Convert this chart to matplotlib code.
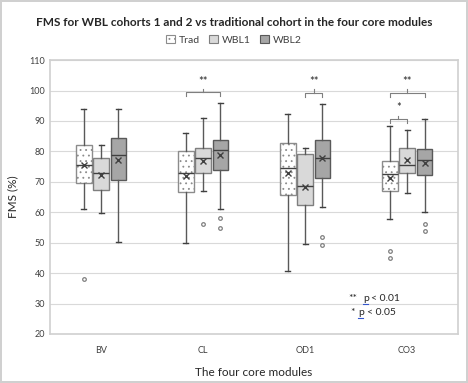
import matplotlib
matplotlib.use("Agg")
import matplotlib.pyplot as plt
from matplotlib.patches import Patch

plt.rcParams['font.family'] = ['Lato', 'DejaVu Sans']
plt.rcParams['hatch.linewidth'] = 0.6

modules = ['BV', 'CL', 'OD1', 'CO3']
cohorts = ['Trad', 'WBL1', 'WBL2']

# five-number summaries, one list per cohort (BV, CL, OD1, CO3)
trad_lo = [61.1, 50.0, 40.7, 57.8]
trad_q1 = [69.7, 66.6, 65.6, 66.9]
trad_med = [75.6, 72.9, 74.6, 72.7]
trad_q3 = [82.0, 80.2, 82.7, 76.7]
trad_hi = [94.0, 86.1, 92.3, 88.3]
trad_mean = [75.4, 71.9, 72.9, 71.4]
trad_out = [[38.1], [], [], [47.2, 44.9]]

wbl1_lo = [59.9, 67.0, 49.6, 66.2]
wbl1_q1 = [67.2, 72.9, 62.3, 72.9]
wbl1_med = [72.9, 77.7, 68.6, 75.4]
wbl1_q3 = [77.7, 81.1, 79.3, 81.2]
wbl1_hi = [82.0, 91.0, 81.2, 87.0]
wbl1_mean = [72.4, 76.7, 68.2, 77.1]
wbl1_out = [[], [56.0], [], []]

wbl2_lo = [50.1, 61.2, 61.7, 60.1]
wbl2_q1 = [70.6, 74.0, 71.3, 72.2]
wbl2_med = [78.9, 80.4, 77.8, 77.1]
wbl2_q3 = [84.3, 83.9, 83.9, 80.8]
wbl2_hi = [94.0, 96.0, 95.6, 90.5]
wbl2_mean = [77.3, 78.8, 77.8, 76.2]
wbl2_out = [[], [58.0, 54.9], [51.8, 49.3], [56.1, 53.9]]

# significance brackets: (module, cohort a, cohort b, height, stars)
sig = [(1, 0, 2, 99.4, '**'), (2, 1, 2, 99.3, '**'), (3, 0, 2, 99.3, '**'), (3, 0, 1, 90.7, '*')]

series = [
    (trad_lo, trad_q1, trad_med, trad_q3, trad_hi, trad_mean, trad_out),
    (wbl1_lo, wbl1_q1, wbl1_med, wbl1_q3, wbl1_hi, wbl1_mean, wbl1_out),
    (wbl2_lo, wbl2_q1, wbl2_med, wbl2_q3, wbl2_hi, wbl2_mean, wbl2_out),
]
faces = ['white', '#d9d9d9', '#a6a6a6']
edges = ['#8c8c8c', '#7f7f7f', '#595959']
hatches = ['...', '', '']
offset = 0.17
width = 0.155

fig = plt.figure(figsize=(4.68, 3.83), dpi=100)
fig.patch.set_edgecolor('#d0d0d0')
fig.patch.set_linewidth(1.5)
ax = fig.add_axes([0.107, 0.128, 0.872, 0.715])

for c, (lo, q1, med, q3, hi, mean, out) in enumerate(series):
    stats = []
    for m in range(len(modules)):
        stats.append(dict(whislo=lo[m], q1=q1[m], med=med[m], q3=q3[m], whishi=hi[m],
                          mean=mean[m], fliers=out[m]))
    pos = [m + (c - 1) * offset for m in range(len(modules))]
    bp = ax.bxp(stats, positions=pos, widths=width, patch_artist=True, showmeans=True,
                manage_ticks=False,
                boxprops=dict(facecolor=faces[c], edgecolor=edges[c], linewidth=1.0, hatch=hatches[c]),
                medianprops=dict(color='#404040', linewidth=1.0),
                whiskerprops=dict(color='#595959', linewidth=1.0),
                capprops=dict(color='#404040', linewidth=1.0),
                capwidths=0.05,
                meanprops=dict(marker='x', markeredgecolor='#404040', markersize=5, markeredgewidth=1.0),
                flierprops=dict(marker='o', markerfacecolor='white', markeredgecolor='#7f7f7f',
                                markersize=2.6, markeredgewidth=0.9))

for m, a, b, y, stars in sig:
    x0 = m + (a - 1) * offset
    x1 = m + (b - 1) * offset
    xm = (x0 + x1) / 2
    col = '#7f7f7f'
    ax.plot([x0, x0, x1, x1], [y - 1.3, y, y, y - 1.3], color=col, lw=0.8)
    ax.plot([xm, xm], [y, y + 1.1], color=col, lw=0.8)
    ax.text(xm, y + 1.8, stars, ha='center', va='bottom', fontsize=8, color='#262626')

# significance key
ax.text(2.42, 31.7, '**', ha='left', va='center', fontsize=7.5, color='#262626')
ax.text(2.565, 31.7, 'p', ha='left', va='center', fontsize=7.5, color='#262626')
ax.plot([2.565, 2.615], [29.9, 29.9], color='#3355cc', lw=0.8)
ax.text(2.65, 31.7, '< 0.01', ha='left', va='center', fontsize=7.5, color='#262626')
ax.text(2.44, 27.1, '*', ha='left', va='center', fontsize=7.5, color='#262626')
ax.text(2.52, 27.1, 'p', ha='left', va='center', fontsize=7.5, color='#262626')
ax.plot([2.52, 2.57], [25.3, 25.3], color='#3355cc', lw=0.8)
ax.text(2.605, 27.1, '< 0.05', ha='left', va='center', fontsize=7.5, color='#262626')

ax.set_xlim(-0.5, 3.5)
ax.set_ylim(20, 110)
ax.set_yticks(range(20, 111, 10))
ax.set_xticks(range(len(modules)))
ax.set_xticklabels(modules)
ax.tick_params(axis='both', length=0, labelsize=6.5, labelcolor='#404040')
ax.tick_params(axis='x', pad=9)
ax.grid(axis='y', color='#d9d9d9', linewidth=0.8)
ax.set_axisbelow(True)
for s in ax.spines.values():
    s.set_color('#d0d0d0')
    s.set_linewidth(1.2)

ax.set_ylabel('FMS (%)', fontsize=8.5, color='#262626', labelpad=8)
ax.set_xlabel('The four core modules', fontsize=8.5, color='#262626', labelpad=8)
fig.suptitle('FMS for WBL cohorts 1 and 2 vs traditional cohort in the four core modules',
             y=0.955, fontsize=8.5, fontweight='bold', color='#262626')

handles = [Patch(facecolor=faces[i], edgecolor=edges[i], hatch=hatches[i], linewidth=0.8)
           for i in range(len(cohorts))]
fig.legend(handles, cohorts, loc='center', bbox_to_anchor=(0.5, 0.895), ncol=3, frameon=False,
           fontsize=7.5, handlelength=0.8, handleheight=0.8, handletextpad=0.4, columnspacing=0.9,
           labelcolor='#404040')

fig.savefig('out.png', dpi=100)
